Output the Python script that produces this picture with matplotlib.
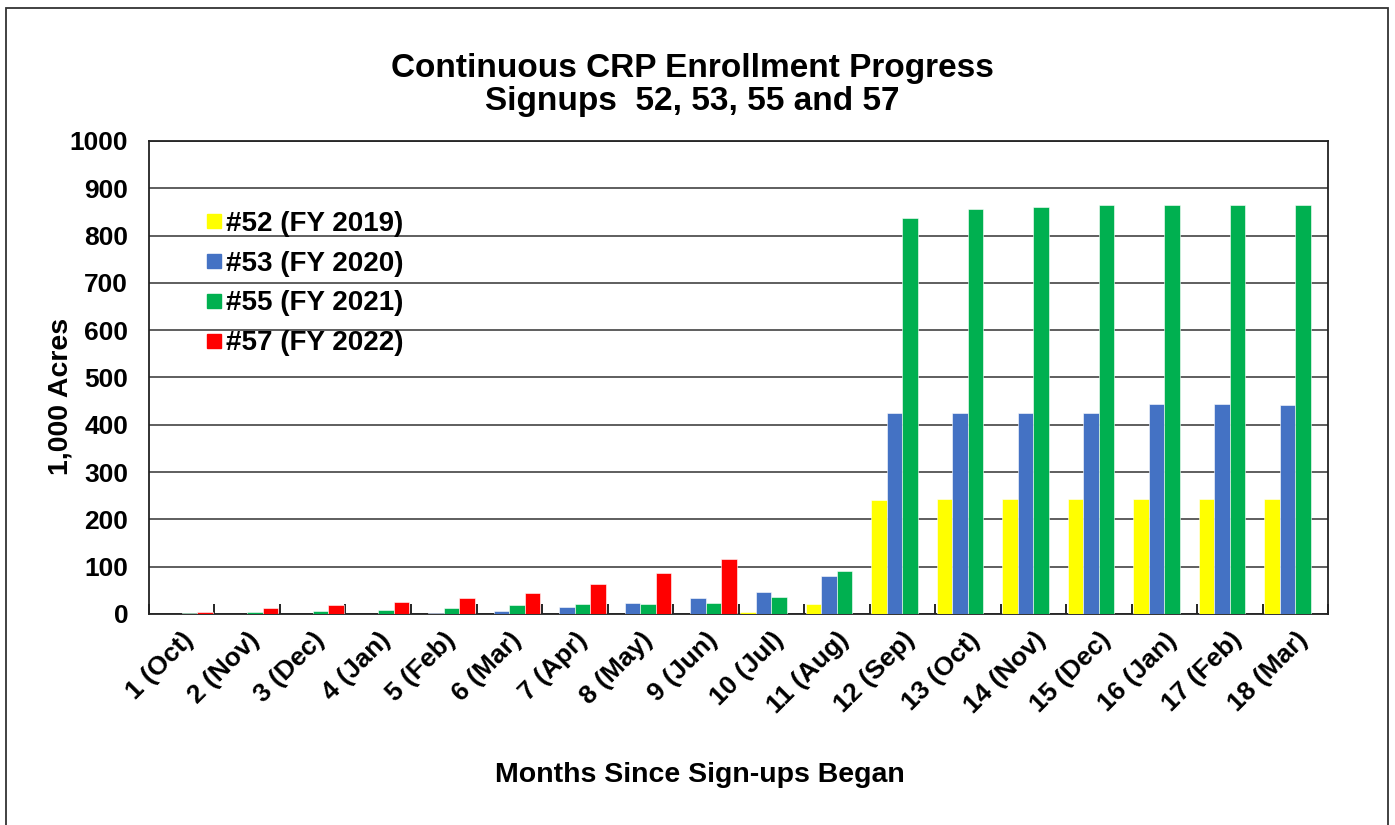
import numpy as np
import matplotlib
matplotlib.use("Agg")
import matplotlib.pyplot as plt
from matplotlib.lines import Line2D
from matplotlib.patches import Rectangle

plt.rcParams['font.family'] = ['Liberation Sans', 'DejaVu Sans']
plt.rcParams['font.weight'] = 'bold'

# data (1,000 acres)
months = ['1 (Oct)', '2 (Nov)', '3 (Dec)', '4 (Jan)', '5 (Feb)', '6 (Mar)', '7 (Apr)',
          '8 (May)', '9 (Jun)', '10 (Jul)', '11 (Aug)', '12 (Sep)', '13 (Oct)',
          '14 (Nov)', '15 (Dec)', '16 (Jan)', '17 (Feb)', '18 (Mar)']
s52 = [0, 0, 0, 0, 0, 0, 0, 0, 0.5, 5, 22, 242, 244, 244, 244, 244, 244, 244]
s53 = [0, 0, 0, 0, 2, 6, 14, 24, 34, 47, 80, 425, 425, 425, 425, 443, 443, 442]
s55 = [3, 5, 6, 8.5, 12, 18, 22, 22, 24, 35, 91, 837, 856, 861, 865, 864, 864, 864]
s57 = [5, 13, 19, 26, 33, 45, 64, 87, 116, np.nan, np.nan, np.nan, np.nan,
       np.nan, np.nan, np.nan, np.nan, np.nan]

labels = ['#52 (FY 2019)', '#53 (FY 2020)', '#55 (FY 2021)', '#57 (FY 2022)']
colors = ['#FFFF00', '#4472C4', '#00B050', '#FF0000']
series = [s52, s53, s55, s57]

fig = plt.figure(figsize=(13.95, 8.25), dpi=100)
ax = fig.add_axes([0.1068, 0.2558, 0.8452, 0.5733])

x = np.arange(len(months))
w = 0.237
for i, (vals, c) in enumerate(zip(series, colors)):
    ax.bar(x + (i - 1.5) * w, vals, width=w, color=c, edgecolor='white',
           linewidth=0.4, zorder=3)

ax.set_xlim(-0.5, len(months) - 0.5)
ax.set_ylim(0, 1000)
ax.set_yticks(range(0, 1001, 100))
ax.yaxis.grid(True, color='#333333', linewidth=1.1, zorder=0)
ax.tick_params(axis='y', length=0, labelsize=19, pad=15)

# ticks on category boundaries, labels at centres
ax.set_xticks(np.arange(len(months) + 1) - 0.5)
ax.set_xticklabels([])
ax.set_xticks(x, minor=True)
ax.set_xticklabels(months, minor=True, rotation=45, ha='right',
                   rotation_mode='anchor', fontsize=19)
ax.tick_params(axis='x', which='major', direction='in', length=7, width=1.2)
ax.tick_params(axis='x', which='minor', length=0, pad=10)
for sp in ax.spines.values():
    sp.set_color('#222222')
    sp.set_linewidth(1.3)

fig.text(60 / 1395, 1 - 396 / 825, '1,000 Acres', rotation=90, ha='center',
         va='center', fontsize=20.5, fontweight='bold')
fig.text(700 / 1395, 1 - 775 / 825, 'Months Since Sign-ups Began', ha='center',
         va='center', fontsize=20.5, fontweight='bold')
fig.text(692 / 1395, 1 - 85 / 825, 'Continuous CRP Enrollment Progress\nSignups  52, 53, 55 and 57',
         ha='center', va='center', fontsize=24, fontweight='bold', linespacing=1.08)

handles = [Line2D([], [], marker='s', linestyle='none', markersize=10,
                  markerfacecolor=c, markeredgecolor=c) for c in colors]
leg = ax.legend(handles, labels, loc='upper left', bbox_to_anchor=(0.036, 0.882),
                frameon=False, fontsize=20, handlelength=0.6,
                handletextpad=0.15, labelspacing=0.5, borderpad=0)
for t in leg.get_texts():
    t.set_fontweight('bold')

# outer chart border
fig.patches.append(Rectangle((6 / 1395, -0.05), 1382 / 1395, 1.05 - 8 / 825,
                             transform=fig.transFigure, fill=False,
                             edgecolor='#333333', linewidth=1.3))

fig.savefig('out.png', dpi=100)
